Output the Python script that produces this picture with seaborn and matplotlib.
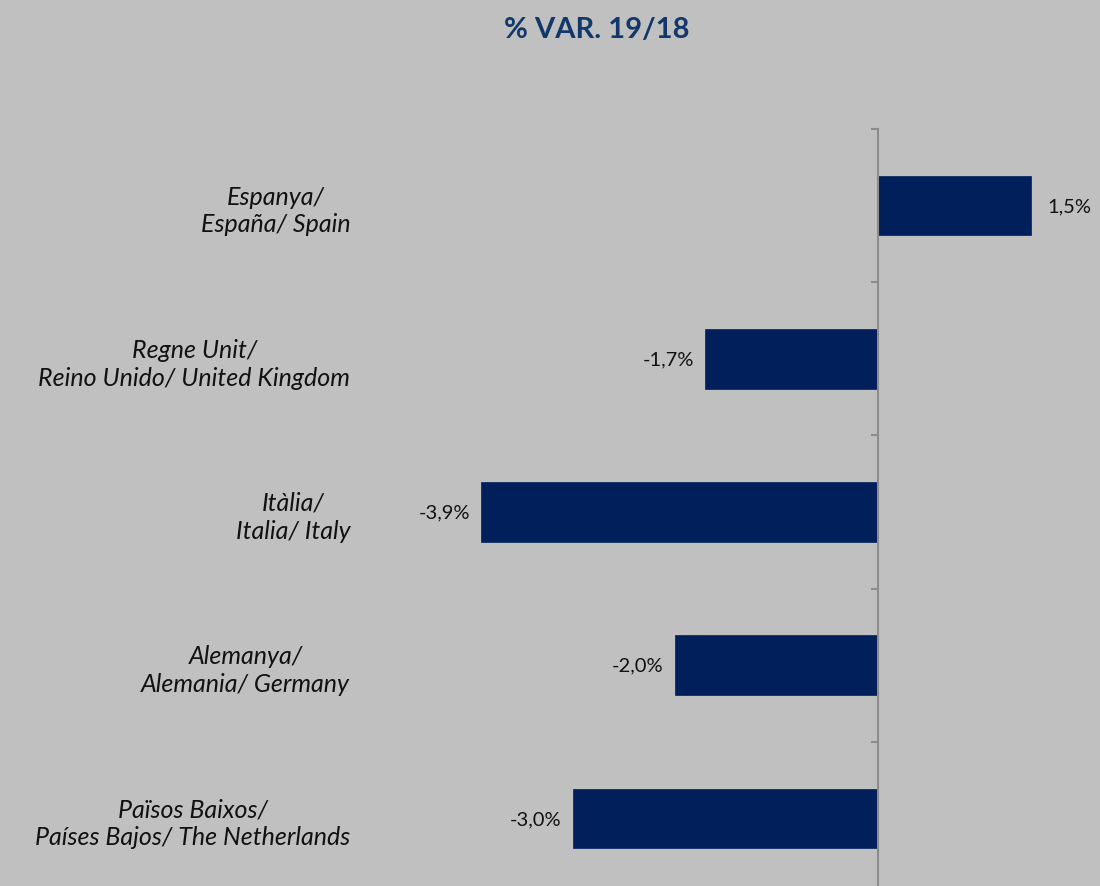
import matplotlib
matplotlib.use("Agg")
import matplotlib.pyplot as plt
import seaborn as sns
import pandas as pd
import numpy as np

categories = [
    "Espanya/\nEspaña/ Spain",
    "Regne Unit/\nReino Unido/ United Kingdom",
    "Itàlia/\nItalia/ Italy",
    "Alemanya/\nAlemania/ Germany",
    "Països Baixos/\nPaíses Bajos/ The Netherlands",
]
values = [1.5, -1.7, -3.9, -2.0, -3.0]
value_labels = ["1,5%", "-1,7%", "-3,9%", "-2,0%", "-3,0%"]
title = "% VAR. 19/18"

BG = "#C0C0C0"
BAR = "#001F5B"
TITLE_C = "#12386B"

sns.set_theme(style="white")
plt.rcParams["font.family"] = ["Lato", "DejaVu Sans"]

df = pd.DataFrame({"cat": categories, "val": values})

fig = plt.figure(figsize=(11, 8.87), dpi=100, facecolor=BG)
W, H = 1100, 887
ax_left_px, ax_right_px = 359, 1102
ax_top_px, ax_bot_px = 130, 896
ax = fig.add_axes([ax_left_px / W, 1 - ax_bot_px / H,
                   (ax_right_px - ax_left_px) / W, (ax_bot_px - ax_top_px) / H])
ax.set_facecolor(BG)

sns.barplot(data=df, x="val", y="cat", orient="h", color=BAR, width=0.39,
            saturation=1, ax=ax, edgecolor=BAR, linewidth=0.5)

ax.set_xlim(-5.1, 2.2)
ax.set_ylim(len(categories) - 0.5, -0.5)
ax.set_xlabel("")
ax.set_ylabel("")
ax.set_xticks([])

for s in ["top", "right", "bottom"]:
    ax.spines[s].set_visible(False)
ax.spines["left"].set_position(("data", 0))
ax.spines["left"].set_color("#8C8C8C")
ax.spines["left"].set_linewidth(1.5)

ax.set_yticks(np.arange(len(categories)))
ax.set_yticklabels(categories)
ax.set_yticks(np.arange(len(categories) + 1) - 0.5, minor=True)
ax.tick_params(axis="y", which="major", length=0, pad=380, labelsize=18)
ax.tick_params(axis="y", which="minor", left=True, length=5, width=1.5,
               color="#8C8C8C")
for lbl in ax.get_yticklabels():
    lbl.set_fontstyle("italic")
    lbl.set_multialignment("center")
    lbl.set_linespacing(1.25)
    lbl.set_color("#111111")

for i, (v, t) in enumerate(zip(values, value_labels)):
    if v >= 0:
        ax.annotate(t, (v, i), xytext=(12, 0), textcoords="offset points",
                    ha="left", va="center", fontsize=14.5, color="#111111")
    else:
        ax.annotate(t, (v, i), xytext=(-8, 0), textcoords="offset points",
                    ha="right", va="center", fontsize=14.5, color="#111111")

fig.text(597 / W, 1 - 30 / H, title, ha="center", va="center",
         fontsize=21, fontweight="bold", color=TITLE_C)

fig.savefig("out.png", dpi=100, facecolor=BG)
